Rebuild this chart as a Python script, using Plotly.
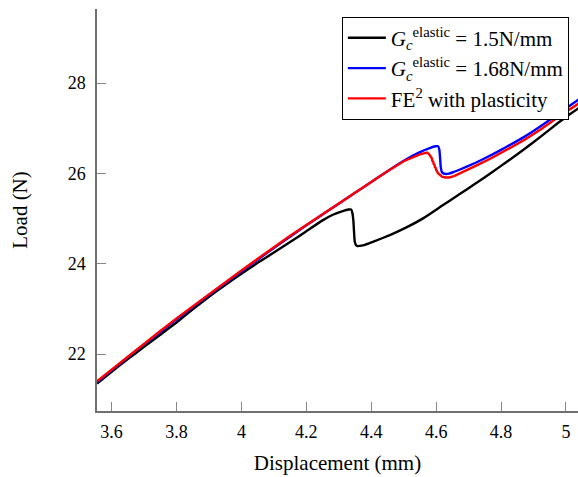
import plotly.graph_objects as go

# Load–displacement curves (displacement in mm, load in N)
disp_elastic_15 = [3.555, 3.60, 3.65, 3.70, 3.75, 3.80, 3.85, 3.90, 3.95, 4.00,
                   4.05, 4.10, 4.15, 4.20, 4.25, 4.28, 4.31, 4.33, 4.338, 4.342,
                   4.345, 4.347, 4.349, 4.353, 4.358, 4.37, 4.38, 4.407, 4.459, 4.51,
                   4.561, 4.613, 4.668, 4.72, 4.771, 4.82, 4.874, 4.925, 4.976, 5.006, 5.04]
load_elastic_15 = [21.35, 21.61, 21.89, 22.16, 22.43, 22.70, 22.99, 23.27, 23.53, 23.78,
                   24.02, 24.25, 24.48, 24.72, 24.96, 25.08, 25.16, 25.20, 25.20, 25.12,
                   24.95, 24.70, 24.50, 24.41, 24.39, 24.40, 24.42, 24.49, 24.64, 24.81,
                   25.01, 25.26, 25.52, 25.77, 26.02, 26.27, 26.55, 26.83, 27.12, 27.28, 27.45]

disp_elastic_168 = [3.555, 3.60, 3.65, 3.70, 3.75, 3.80, 3.85, 3.90, 3.95, 4.00,
                    4.05, 4.10, 4.15, 4.20, 4.25, 4.30, 4.35, 4.40, 4.45, 4.50,
                    4.55, 4.58, 4.598, 4.606, 4.610, 4.612, 4.614, 4.617, 4.622, 4.635,
                    4.65, 4.668, 4.72, 4.771, 4.82, 4.874, 4.925, 4.976, 5.04]
load_elastic_168 = [21.38, 21.64, 21.93, 22.21, 22.49, 22.77, 23.04, 23.31, 23.57, 23.83,
                    24.09, 24.35, 24.60, 24.85, 25.09, 25.33, 25.57, 25.81, 26.05, 26.28,
                    26.47, 26.56, 26.60, 26.60, 26.52, 26.35, 26.15, 26.04, 26.00, 25.99,
                    26.02, 26.07, 26.23, 26.41, 26.60, 26.82, 27.06, 27.32, 27.64]

disp_fe2 = [3.555, 3.60, 3.65, 3.70, 3.75, 3.80, 3.85, 3.90, 3.95, 4.00,
            4.05, 4.10, 4.15, 4.20, 4.25, 4.30, 4.35, 4.40, 4.45, 4.50,
            4.53, 4.55, 4.565, 4.572, 4.578, 4.582, 4.584, 4.587, 4.588, 4.591,
            4.592, 4.595, 4.596, 4.599, 4.600, 4.603, 4.605, 4.610, 4.618, 4.628,
            4.64, 4.655, 4.674, 4.72, 4.771, 4.82, 4.874, 4.925, 4.976, 5.04]
load_fe2 = [21.40, 21.66, 21.95, 22.23, 22.51, 22.79, 23.06, 23.33, 23.59, 23.85,
            24.11, 24.37, 24.62, 24.86, 25.10, 25.34, 25.58, 25.82, 26.05, 26.27,
            26.37, 26.42, 26.45, 26.46, 26.43, 26.38, 26.35, 26.33, 26.28, 26.26,
            26.21, 26.19, 26.14, 26.12, 26.07, 26.05, 26.01, 25.97, 25.93, 25.91,
            25.91, 25.94, 26.00, 26.16, 26.34, 26.53, 26.75, 26.99, 27.25, 27.55]

x_ticks = [3.6, 3.8, 4.0, 4.2, 4.4, 4.6, 4.8, 5.0]
x_tick_text = ["3.6", "3.8", "4", "4.2", "4.4", "4.6", "4.8", "5"]
y_ticks = [22, 24, 26, 28]
y_tick_text = ["22", "24", "26", "28"]

x_range = [3.555, 5.037]
y_range = [20.74, 29.64]

FONT = "Liberation Serif"

fig = go.Figure()
fig.add_trace(go.Scatter(x=disp_elastic_15, y=load_elastic_15, mode="lines",
                         line=dict(color="black", width=2.4, shape="spline", smoothing=0.3),
                         name="<i>G</i><sub><i>c</i></sub><sup>elastic</sup> = 1.5N/mm"))
fig.add_trace(go.Scatter(x=disp_elastic_168, y=load_elastic_168, mode="lines",
                         line=dict(color="#0000ff", width=2.4, shape="spline", smoothing=0.3),
                         name="<i>G</i><sub><i>c</i></sub><sup>elastic</sup> = 1.68N/mm"))
fig.add_trace(go.Scatter(x=disp_fe2, y=load_fe2, mode="lines",
                         line=dict(color="#ff0000", width=2.4),
                         name="FE<sup>2</sup> with plasticity"))

tick_style = dict(ticks="inside", ticklen=9, tickwidth=1, tickcolor="#888888",
                  showgrid=False, zeroline=False)

fig.update_layout(
    width=578, height=477,
    margin=dict(l=97, r=0, t=9, b=66, autoexpand=False),
    paper_bgcolor="white", plot_bgcolor="white",
    font=dict(family=FONT, color="black", size=18),
    xaxis=dict(range=x_range, tickvals=x_ticks, ticktext=x_tick_text,
               showline=True, linecolor="#707070", linewidth=1.5,
               tickfont=dict(size=18), ticklabelstandoff=4,
               title=dict(text="Displacement (mm)", font=dict(size=21), standoff=14),
               **tick_style),
    yaxis=dict(range=y_range, tickvals=y_ticks, ticktext=y_tick_text,
               showline=True, linecolor="#707070", linewidth=1.5,
               tickfont=dict(size=18), ticklabelstandoff=6,
               title=dict(text="Load (N)", font=dict(size=21), standoff=34),
               **tick_style),
    xaxis2=dict(range=x_range, overlaying="x", side="top", anchor="y",
                tickvals=x_ticks, showticklabels=False,
                showline=True, linecolor="black", linewidth=1, **tick_style),
    yaxis2=dict(range=y_range, overlaying="y", side="right", anchor="x",
                tickvals=y_ticks, showticklabels=False, showline=False, **tick_style),
    legend=dict(x=0.981, y=0.981, xanchor="right", yanchor="top",
                bgcolor="white", bordercolor="black", borderwidth=1,
                font=dict(family=FONT, size=21), itemwidth=38,
                tracegroupgap=0),
    showlegend=True,
)

fig.write_html("out.html")
